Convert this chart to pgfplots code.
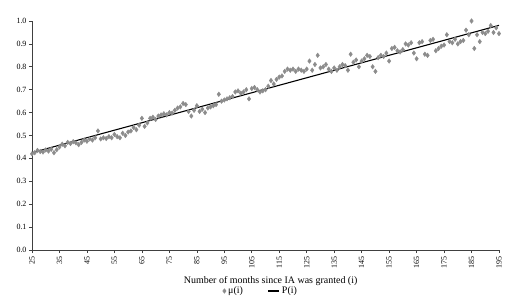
\documentclass[border=0pt]{standalone}
\usepackage{pgfplots}
\pgfplotsset{compat=1.18}
\usepackage{fontspec}
\setmainfont{Liberation Serif}
\definecolor{ptgray}{HTML}{8C8C8C}
\begin{document}
\begin{tikzpicture}
\begin{axis}[
  name=ax,
  at={(0,0)}, anchor=south west,
  scale only axis,
  width=467bp, height=229bp,
  xmin=25, xmax=195, ymin=0, ymax=1,
  axis x line=bottom, axis y line=left,
  axis line style={-, line width=0.7pt, black!75},
  xtick={25,35,...,195},
  ytick={0,0.1,...,1.0},
  tick align=outside,
  major tick length=3bp,
  tick style={black!75, line width=0.6pt},
  /pgf/number format/assume math mode=true,
  yticklabel style={font=\fontsize{8}{9}\selectfont, /pgf/number format/fixed, /pgf/number format/fixed zerofill, /pgf/number format/precision=1, xshift=1bp},
  xticklabel style={font=\fontsize{8}{9}\selectfont, rotate=90, anchor=east, xshift=0bp},
  xlabel={Number of months since IA was granted (i)},
  xlabel style={font=\fontsize{10}{12}\selectfont, at={(axis description cs:0.511,0)}, anchor=base, yshift=-33bp},
  legend columns=2,
  legend style={draw=none, fill=none, font=\fontsize{10}{12}\selectfont, at={(axis description cs:0.49,0)}, anchor=center, yshift=-41bp, /tikz/every even column/.append style={column sep=23bp}},
  clip=false,
]
\addplot[only marks, mark=diamond*, mark size=2.3bp, color=ptgray, mark options={fill=ptgray, draw=ptgray}] coordinates {
(25,0.420)(26,0.425)(27,0.435)(28,0.430)(29,0.428)(30,0.437)(31,0.432)(32,0.440)(33,0.425)(34,0.438)
(35,0.450)(36,0.462)(37,0.455)(38,0.470)(39,0.465)(40,0.473)(41,0.468)(42,0.460)(43,0.470)(44,0.480)
(45,0.475)(46,0.485)(47,0.480)(48,0.490)(49,0.520)(50,0.485)(51,0.490)(52,0.487)(53,0.495)(54,0.490)
(55,0.505)(56,0.495)(57,0.490)(58,0.510)(59,0.500)(60,0.515)(61,0.520)(62,0.535)(63,0.525)(64,0.545)
(65,0.575)(66,0.540)(67,0.555)(68,0.575)(69,0.580)(70,0.570)(71,0.585)(72,0.590)(73,0.595)(74,0.590)
(75,0.600)(76,0.598)(77,0.610)(78,0.620)(79,0.625)(80,0.640)(81,0.635)(82,0.605)(83,0.585)(84,0.610)
(85,0.630)(86,0.605)(87,0.615)(88,0.600)(89,0.620)(90,0.625)(91,0.630)(92,0.635)(93,0.680)(94,0.650)
(95,0.655)(96,0.660)(97,0.665)(98,0.670)(99,0.690)(100,0.695)(101,0.685)(102,0.690)(103,0.700)(104,0.660)
(105,0.705)(106,0.710)(107,0.700)(108,0.690)(109,0.695)(110,0.700)(111,0.715)(112,0.740)(113,0.725)(114,0.745)
(115,0.755)(116,0.760)(117,0.780)(118,0.790)(119,0.785)(120,0.790)(121,0.780)(122,0.790)(123,0.785)(124,0.780)
(125,0.790)(126,0.825)(127,0.785)(128,0.810)(129,0.850)(130,0.795)(131,0.800)(132,0.810)(133,0.790)(134,0.780)
(135,0.795)(136,0.785)(137,0.800)(138,0.810)(139,0.805)(140,0.785)(141,0.855)(142,0.820)(143,0.830)(144,0.800)
(145,0.825)(146,0.835)(147,0.850)(148,0.845)(149,0.800)(150,0.780)(151,0.840)(152,0.850)(153,0.845)(154,0.860)
(155,0.825)(156,0.880)(157,0.885)(158,0.870)(159,0.865)(160,0.875)(161,0.900)(162,0.895)(163,0.905)(164,0.860)
(165,0.835)(166,0.905)(167,0.910)(168,0.855)(169,0.850)(170,0.915)(171,0.920)(172,0.870)(173,0.880)(174,0.890)
(175,0.895)(176,0.940)(177,0.910)(178,0.905)(179,0.920)(180,0.900)(181,0.910)(182,0.915)(183,0.960)(184,0.940)
(185,1.000)(186,0.880)(187,0.940)(188,0.910)(189,0.950)(190,0.945)(191,0.955)(192,0.980)(193,0.950)(194,0.970)
(195,0.945)
};
\addlegendentry{μ(i)}
\addplot[black, line width=1.1pt, no marks, legend image code/.code={\draw[black, line width=1.1pt] (0bp,0bp) -- (11bp,0bp);}] coordinates {(25,0.425)(195,0.981)};
\addlegendentry{P(i)}
\end{axis}
\pgfresetboundingbox
\path[use as bounding box] ([xshift=-32bp,yshift=-56bp]ax.south west) rectangle ([xshift=11bp,yshift=21bp]ax.north east);
\end{tikzpicture}
\end{document}
